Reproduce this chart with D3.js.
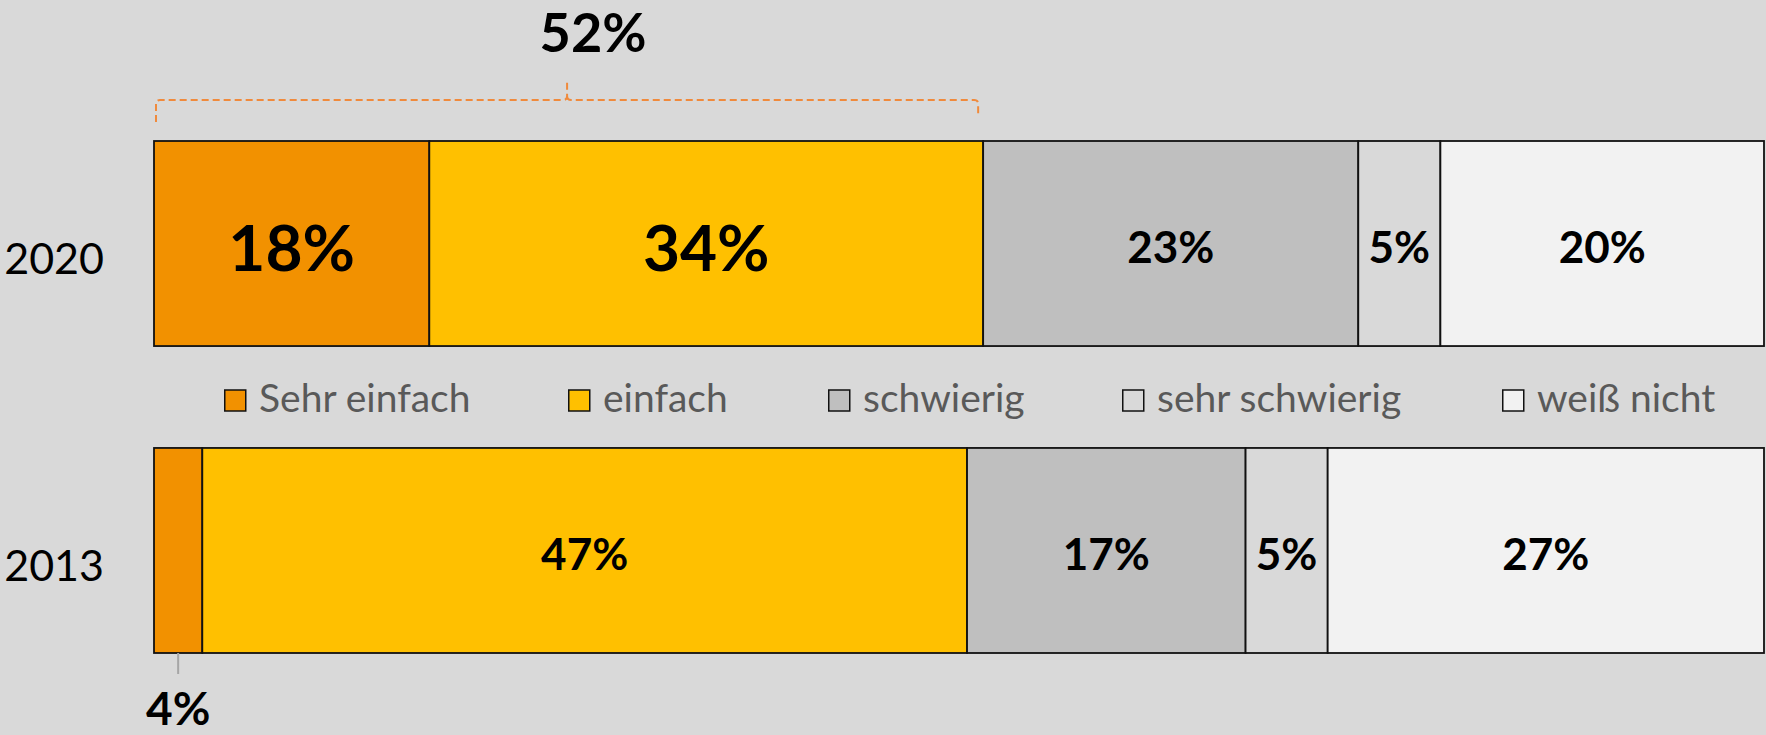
<!DOCTYPE html>
<html><head><meta charset="utf-8">
<script src="https://cdn.jsdelivr.net/npm/d3@7"></script>
<style>html,body{margin:0;padding:0;background:#D9D9D9;}svg{display:block;}</style>
</head><body>
<script>
const years = ["2020", "2013"];
const categories = ["Sehr einfach", "einfach", "schwierig", "sehr schwierig", "weiß nicht"];
const colors = ["#F29100", "#FFC000", "#BFBFBF", "#D9D9D9", "#F2F2F2"];
const values2020 = [17.1, 34.4, 23.3, 5.1, 20.1];
const values2013 = [3.0, 47.5, 17.3, 5.1, 27.1];
const labels2020 = ["18%", "34%", "23%", "5%", "20%"];
const labels2013 = ["4%", "47%", "17%", "5%", "27%"];
const bracketLabel = "52%";

const W = 1766, H = 735;
const svg = d3.select("body").append("svg").attr("width", W).attr("height", H);
svg.append("rect").attr("width", W).attr("height", H).attr("fill", "#D9D9D9");

const x = d3.scaleLinear().domain([0, 100]).range([154, 1764]);
const y = d3.scaleBand().domain(years).range([141, 653]).paddingInner(0.332).paddingOuter(0);

const series = {"2020": {v: values2020, l: labels2020}, "2013": {v: values2013, l: labels2013}};

const segs = [];
years.forEach(yr => {
  let acc = 0;
  series[yr].v.forEach((v, i) => {
    segs.push({yr, i, x0: acc, x1: acc + v, label: series[yr].l[i]});
    acc += v;
  });
});

const g = svg.append("g");
g.selectAll("rect.seg").data(segs).join("rect")
  .attr("class", "seg")
  .attr("x", d => x(d.x0)).attr("width", d => x(d.x1) - x(d.x0))
  .attr("y", d => y(d.yr)).attr("height", y.bandwidth())
  .attr("fill", d => colors[d.i])
  .attr("stroke", "#111").attr("stroke-width", 1.8);

// labels inside bars
const inside = segs.filter(d => !(d.yr === "2013" && d.i === 0));
g.selectAll("text.lbl").data(inside).join("text")
  .attr("class", "lbl")
  .attr("x", d => (x(d.x0) + x(d.x1)) / 2)
  .attr("y", d => y(d.yr) + y.bandwidth() / 2 + 4)
  .attr("dy", "0.36em")
  .attr("text-anchor", "middle")
  .attr("font-family", "Lato, 'Noto Sans', sans-serif")
  .attr("font-weight", 700)
  .attr("font-size", d => (d.yr === "2020" && d.i < 2) ? 64 : 44)
  .attr("fill", "#000")
  .text(d => d.label);

// outside label for 2013 first segment
const s0 = segs.find(d => d.yr === "2013" && d.i === 0);
const cx0 = (x(s0.x0) + x(s0.x1)) / 2;
const yb = y("2013") + y.bandwidth();
g.append("line").attr("x1", cx0).attr("x2", cx0).attr("y1", yb).attr("y2", yb + 21)
  .attr("stroke", "#A6A6A6").attr("stroke-width", 2);
g.append("text").attr("x", cx0).attr("y", yb + 72)
  .attr("text-anchor", "middle")
  .attr("font-family", "Lato, 'Noto Sans', sans-serif").attr("font-weight", 700)
  .attr("font-size", 46).attr("fill", "#000").text(s0.label);

// bracket over first two 2020 segments
const bL = x(0) + 2, bR = x(values2020[0] + values2020[1]) - 5;
const bY = y("2020") - 41, bM = (bL + bR) / 2, r = 4;
const bracket = d3.path();
bracket.moveTo(bL, bY + 22);
bracket.lineTo(bL, bY + r);
bracket.quadraticCurveTo(bL, bY, bL + r, bY);
bracket.lineTo(bM - r, bY);
bracket.quadraticCurveTo(bM, bY, bM, bY - r);
bracket.lineTo(bM, bY - 21);
bracket.moveTo(bM, bY - r);
bracket.quadraticCurveTo(bM, bY, bM + r, bY);
bracket.lineTo(bR - r, bY);
bracket.quadraticCurveTo(bR, bY, bR, bY + r);
bracket.lineTo(bR, bY + 17);
g.append("path").attr("d", bracket.toString()).attr("fill", "none")
  .attr("stroke", "#F08A3C").attr("stroke-width", 2).attr("stroke-dasharray", "7,4");
g.append("text").attr("x", bM + 26).attr("y", 52)
  .attr("text-anchor", "middle")
  .attr("font-family", "Lato, 'Noto Sans', sans-serif").attr("font-weight", 700)
  .attr("font-size", 54).attr("fill", "#000").text(bracketLabel);

// year axis
const ax = svg.append("g").attr("transform", `translate(${x(0)},0)`)
  .call(d3.axisLeft(y).tickSize(0).tickPadding(50));
ax.select(".domain").remove();
ax.selectAll("text").attr("font-family", "Lato, 'Noto Sans', sans-serif")
  .attr("font-size", 43).attr("fill", "#000").attr("dy", "0.72em");

// legend
const legendX = [224, 568, 828, 1122, 1502];
const leg = svg.append("g");
const ly = 390, sq = 21;
categories.forEach((c, i) => {
  const lx = legendX[i];
  leg.append("rect").attr("x", lx + 0.75).attr("y", ly).attr("width", sq).attr("height", sq)
    .attr("fill", colors[i]).attr("stroke", "#111").attr("stroke-width", 1.5);
  leg.append("text").attr("x", lx + sq + 14).attr("y", ly + 22)
    .attr("font-family", "Lato, 'Noto Sans', sans-serif").attr("font-size", 39)
    .attr("fill", "#595959").text(c);
});
</script>
</body></html>
